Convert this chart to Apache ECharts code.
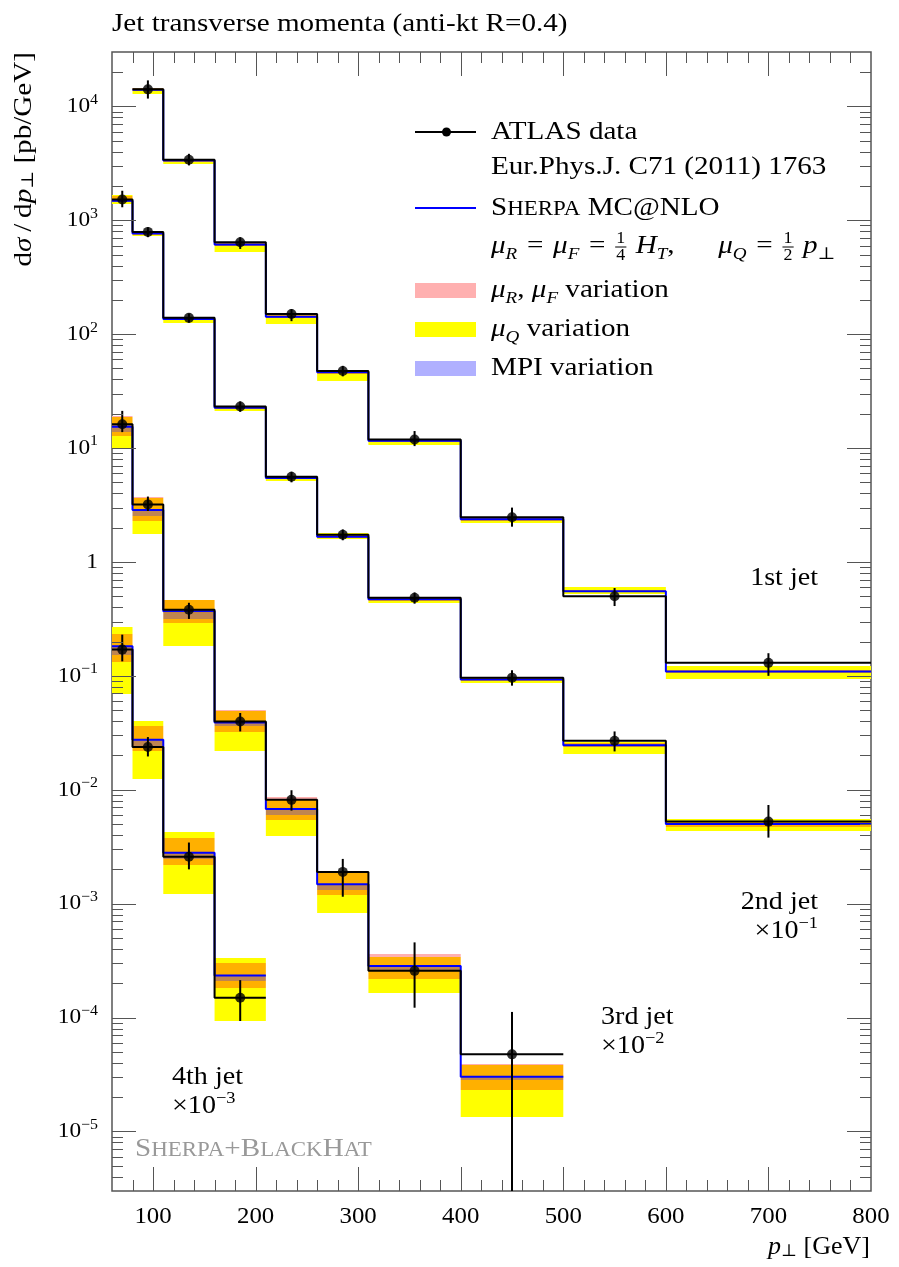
<!DOCTYPE html>
<html>
<head>
<meta charset="utf-8">
<title>Jet transverse momenta</title>
<script src="https://cdn.jsdelivr.net/npm/echarts@6/dist/echarts.min.js"></script>
<style>
  body { margin: 0; background: #fff; }
  #main { width: 899px; height: 1267px; }
</style>
</head>
<body>
<div id="main"></div>
<script>
// bin edges in pT [GeV]
var edges = [60, 80, 110, 160, 210, 260, 310, 400, 500, 600, 800];
var xMin = 60, xMax = 800, yMin = 3e-6, yMax = 3e4;
var xLabels = [100, 200, 300, 400, 500, 600, 700, 800];
var yLabelExp = [-5, -4, -3, -2, -1, 0, 1, 2, 3, 4];

// 1st jet, bins 80-110 ... 600-800
var jet1Start = 1;
var jet1Data   = [14100, 3400, 640, 150, 47.5, 11.9, 2.47, 0.50, 0.130];
var jet1DataLo = [11700, 3030, 560, 130, 42.6, 10.4, 2.04, 0.41, 0.100];
var jet1DataHi = [16900, 3830, 710, 166, 52.7, 14.1, 3.0, 0.59, 0.158];
var jet1Mc     = [14000, 3350, 611, 142, 46.4, 11.6, 2.37, 0.553, 0.109];
var jet1MuQLo  = [12800, 3090, 531, 123, 38.9, 10.6, 2.18, 0.52, 0.094];
var jet1MuQHi  = [14600, 3450, 640, 150, 48, 12.0, 2.48, 0.60, 0.121];
var jet1MuRLo  = [13600, 3250, 590, 138, 45, 11.3, 2.30, 0.54, 0.105];
var jet1MuRHi  = [14500, 3420, 625, 146, 47.5, 11.9, 2.45, 0.57, 0.113];
var jet1MpiLo  = [13800, 3300, 600, 140, 45.8, 11.4, 2.33, 0.545, 0.107];
var jet1MpiHi  = [14200, 3400, 620, 144, 47, 11.8, 2.41, 0.56, 0.111];

// 2nd jet (x 10^-1), bins 60-80 ... 600-800
var jet2Start = 0;
var jet2Data   = [1520, 790, 139, 23.2, 5.6, 1.73, 0.485, 0.0964, 0.0269, 0.00525];
var jet2DataLo = [1300, 710, 126, 20.8, 5.0, 1.55, 0.43, 0.082, 0.0217, 0.0038];
var jet2DataHi = [1815, 869, 152, 25.7, 6.2, 1.93, 0.54, 0.112, 0.0325, 0.00735];
var jet2Mc     = [1480, 765, 136, 22.6, 5.45, 1.66, 0.47, 0.093, 0.0246, 0.0050];
var jet2MuQLo  = [1380, 730, 125, 21.0, 5.1, 1.60, 0.44, 0.086, 0.0205, 0.0043];
var jet2MuQHi  = [1650, 800, 141, 23.6, 5.7, 1.78, 0.49, 0.098, 0.026, 0.0055];
var jet2MuRLo  = [1440, 745, 132, 22.0, 5.3, 1.62, 0.455, 0.090, 0.0235, 0.0047];
var jet2MuRHi  = [1620, 790, 139, 23.2, 5.6, 1.72, 0.485, 0.096, 0.0255, 0.0052];
var jet2MpiLo  = [1460, 755, 134, 22.3, 5.38, 1.64, 0.463, 0.0915, 0.024, 0.0049];
var jet2MpiHi  = [1500, 775, 138, 22.9, 5.52, 1.69, 0.477, 0.0945, 0.0252, 0.0051];

// 3rd jet (x 10^-2), bins 60-80 ... 400-500
var jet3Start = 0;
var jet3Data   = [16.2, 3.2, 0.38, 0.0398, 0.00815, 0.0019, 0.000257, 4.75e-5];
var jet3DataLo = [13.8, 2.80, 0.316, 0.0325, 0.00656, 0.00115, 0.000122, 1e-9];
var jet3DataHi = [21.2, 3.75, 0.438, 0.0472, 0.0099, 0.00247, 0.000457, 0.000112];
var jet3Mc     = [15.4, 2.86, 0.37, 0.039, 0.00679, 0.00148, 0.000284, 3.02e-5];
var jet3MuQLo  = [10.1, 1.75, 0.182, 0.0221, 0.00393, 0.00083, 0.000163, 1.34e-5];
var jet3MuQHi  = [18.8, 3.67, 0.459, 0.0488, 0.00815, 0.00185, 0.000341, 3.8e-5];
var jet3MuRLo  = [12.7, 2.29, 0.292, 0.0319, 0.00543, 0.00119, 0.00022, 2.29e-5];
var jet3MuRHi  = [19.2, 3.72, 0.462, 0.0498, 0.00861, 0.0019, 0.00036, 3.94e-5];
var jet3MpiLo  = [13.8, 2.53, 0.316, 0.036, 0.0060, 0.00132, 0.000257, 2.85e-5];
var jet3MpiHi  = [15.9, 2.80, 0.357, 0.0385, 0.0068, 0.00148, 0.000284, 3.05e-5];

// 4th jet (x 10^-3), bins 60-80 ... 160-210
var jet4Start = 0;
var jet4Data   = [0.170, 0.0237, 0.00258, 1.49e-4];
var jet4DataLo = [0.134, 0.0196, 0.0020, 9.33e-5];
var jet4DataHi = [0.230, 0.029, 0.00344, 2.13e-4];
var jet4Mc     = [0.182, 0.0275, 0.0028, 2.34e-4];
var jet4MuQLo  = [0.0693, 0.0124, 0.00121, 9.27e-5];
var jet4MuQHi  = [0.267, 0.0398, 0.00423, 3.3e-4];
var jet4MuRLo  = [0.133, 0.0217, 0.00219, 1.8e-4];
var jet4MuRHi  = [0.235, 0.036, 0.00375, 3.02e-4];
var jet4MpiLo  = [0.153, 0.0232, 0.00245, 2.1e-4];
var jet4MpiHi  = [0.180, 0.0275, 0.0028, 2.34e-4];

var jets = [
  {start: jet1Start, data: jet1Data, lo: jet1DataLo, hi: jet1DataHi, mc: jet1Mc,
   qLo: jet1MuQLo, qHi: jet1MuQHi, rLo: jet1MuRLo, rHi: jet1MuRHi, mLo: jet1MpiLo, mHi: jet1MpiHi},
  {start: jet2Start, data: jet2Data, lo: jet2DataLo, hi: jet2DataHi, mc: jet2Mc,
   qLo: jet2MuQLo, qHi: jet2MuQHi, rLo: jet2MuRLo, rHi: jet2MuRHi, mLo: jet2MpiLo, mHi: jet2MpiHi},
  {start: jet3Start, data: jet3Data, lo: jet3DataLo, hi: jet3DataHi, mc: jet3Mc,
   qLo: jet3MuQLo, qHi: jet3MuQHi, rLo: jet3MuRLo, rHi: jet3MuRHi, mLo: jet3MpiLo, mHi: jet3MpiHi},
  {start: jet4Start, data: jet4Data, lo: jet4DataLo, hi: jet4DataHi, mc: jet4Mc,
   qLo: jet4MuQLo, qHi: jet4MuQHi, rLo: jet4MuRLo, rHi: jet4MuRHi, mLo: jet4MpiLo, mHi: jet4MpiHi}
];

var FONT = '"Liberation Serif", "DejaVu Serif", serif';
var FRAME = '#555';
var SX = 1.12;   // horizontal stretch, the original face is wider than Liberation Serif
// colours of the bands and of their overlaps (Q = muQ, R = muR/muF, M = MPI)
var BAND = {Q: '#ffff00', R: '#ffb0b0', M: '#b0b0ff', QR: '#ffb000',
            QM: '#b4b45a', RM: '#c8a0c8', QRM: '#bf8550'};

function steps(start, vals) {
  var pts = [];
  vals.forEach(function (v, i) {
    pts.push([edges[start + i], v]);
    pts.push([edges[start + i + 1], v]);
  });
  return pts;
}

function renderBands(params, api) {
  var cs = params.coordSys;
  var x0 = api.value(0), x1 = api.value(1);
  var b = [[api.value(2), api.value(3)], [api.value(4), api.value(5)], [api.value(6), api.value(7)]];
  var cuts = [b[0][0], b[0][1], b[1][0], b[1][1], b[2][0], b[2][1]].sort(function (a, c) { return a - c; });
  var kids = [];
  function inside(r, v) { return v > r[0] && v < r[1]; }
  for (var i = 0; i < cuts.length - 1; i++) {
    var lo = cuts[i], hi = cuts[i + 1];
    if (hi <= lo) continue;
    var mid = Math.sqrt(lo * hi);
    var key = (inside(b[0], mid) ? 'Q' : '') + (inside(b[1], mid) ? 'R' : '') + (inside(b[2], mid) ? 'M' : '');
    if (!key) continue;
    var p0 = api.coord([x0, hi]), p1 = api.coord([x1, lo]);
    var yt = Math.round(p0[1]), yb = Math.round(p1[1]);
    var r = echarts.graphic.clipRectByRect(
      {x: p0[0], y: yt, width: p1[0] - p0[0], height: yb - yt},
      {x: cs.x, y: cs.y, width: cs.width, height: cs.height});
    if (r) kids.push({type: 'rect', shape: r, style: {fill: BAND[key]}});
  }
  return {type: 'group', children: kids};
}

function renderErr(params, api) {
  var cs = params.coordSys;
  var pLo = api.coord([api.value(0), api.value(1)]);
  var pHi = api.coord([api.value(0), api.value(2)]);
  var yb = Math.min(pLo[1], cs.y + cs.height);
  var yt = Math.max(pHi[1], cs.y);
  return {type: 'line', shape: {x1: pLo[0], y1: yb, x2: pLo[0], y2: yt},
          style: {stroke: '#000', lineWidth: 2}};
}

// ticks on all four sides + tick labels
function renderAxes(params, api) {
  var cs = params.coordSys;
  var left = cs.x, top = cs.y, right = cs.x + cs.width, bottom = cs.y + cs.height;
  var kids = [];
  function tick(x1, y1, x2, y2) {
    kids.push({type: 'line', shape: {x1: x1, y1: y1, x2: x2, y2: y2},
               style: {stroke: FRAME, lineWidth: 1}});
  }
  for (var v = 80; v < xMax; v += 20) {
    var x = Math.round(api.coord([v, 1])[0]) + 0.5;
    var len = v % 100 === 0 ? 24 : 11;
    tick(x, bottom, x, bottom - len);
    tick(x, top, x, top + len);
  }
  for (var k = -6; k <= 4; k++) {
    for (var m = 1; m <= 9; m++) {
      var val = m * Math.pow(10, k);
      if (val <= yMin || val >= yMax) continue;
      var y = Math.round(api.coord([xMin, val])[1]) + 0.5;
      var l = m === 1 ? 24 : 11;
      tick(left, y, left + l, y);
      tick(right, y, right - l, y);
    }
  }
  xLabels.forEach(function (v) {
    kids.push({type: 'text', x: api.coord([v, 1])[0], y: bottom + 26, scaleX: 1.08,
      style: {text: String(v), fontFamily: FONT, fontSize: 23, fill: '#000',
              align: 'center', verticalAlign: 'middle'}});
  });
  yLabelExp.forEach(function (e) {
    var y = api.coord([xMin, Math.pow(10, e)])[1];
    var t = e === 0 ? '{b|1}' : '{b|10}{s|' + (e < 0 ? '\u2212' + (-e) : e) + '}';
    kids.push({type: 'text', x: left - 14, y: y, scaleX: 1.06,
      style: {text: t, align: 'right', verticalAlign: 'middle',
        rich: {
          b: {fontFamily: FONT, fontSize: 22, lineHeight: 28, fill: '#000'},
          s: {fontFamily: FONT, fontSize: 15, lineHeight: 14, verticalAlign: 'top', fill: '#000'}
        }}});
  });
  return {type: 'group', children: kids};
}

var bands = [], errBars = [], points = [];
jets.forEach(function (j) {
  j.data.forEach(function (v, i) {
    var x0 = edges[j.start + i], x1 = edges[j.start + i + 1];
    bands.push([x0, x1, j.qLo[i], j.qHi[i], j.rLo[i], j.rHi[i], j.mLo[i], j.mHi[i]]);
    errBars.push([(x0 + x1) / 2, j.lo[i], j.hi[i]]);
    points.push([(x0 + x1) / 2, v]);
  });
});

var series = [
  {type: 'custom', renderItem: renderBands, data: bands,
   encode: {x: [0, 1], y: [2, 3, 4, 5, 6, 7]}, z: 1, silent: true}
];
jets.forEach(function (j) {
  series.push({type: 'line', data: steps(j.start, j.mc), symbol: 'none', z: 2, silent: true,
               lineStyle: {color: '#0000ff', width: 2}});
});
jets.forEach(function (j) {
  series.push({type: 'line', data: steps(j.start, j.data), symbol: 'none', z: 3, silent: true,
               lineStyle: {color: '#000', width: 2}});
});
series.push({type: 'custom', renderItem: renderErr, data: errBars,
             encode: {x: 0, y: [1, 2]}, z: 4, silent: true});
series.push({type: 'scatter', data: points, symbolSize: 10, z: 5, silent: true,
             itemStyle: {color: '#000'}});
series.push({type: 'custom', renderItem: renderAxes, data: [[xMin, 1]], z: 6, silent: true});

// --- text set piece by piece (legend formulas with stacked fractions)
var mctx = document.createElement('canvas').getContext('2d');
function textWidth(t, size, style) {
  mctx.font = (style || 'normal') + ' ' + size + 'px ' + FONT;
  return mctx.measureText(t).width;
}
var SEG = {
  n:  {size: 26, style: 'normal', dy: 0},
  i:  {size: 26, style: 'italic', dy: 0},
  s:  {size: 17, style: 'italic', dy: 5},
  sn: {size: 17, style: 'normal', dy: 5},
  c:  {size: 20.5, style: 'normal', dy: 0}
};
// segs: [text, kind] or [numerator, 'frac', denominator]
function pieces(x, base, segs, color) {
  var out = [];
  segs.forEach(function (sg) {
    if (sg[1] === 'frac') {
      var w = (Math.max(textWidth(sg[0], 16), textWidth(sg[2], 16)) + 2) * SX;
      out.push({type: 'text', x: x + w / 2, y: base - 10.5 - 0.3375 * 16, scaleX: SX,
        style: {text: sg[0], fontFamily: FONT, fontSize: 16, fill: color, align: 'center', verticalAlign: 'middle'}});
      out.push({type: 'line', shape: {x1: x, y1: base - 8, x2: x + w, y2: base - 8},
        style: {stroke: color, lineWidth: 1}});
      out.push({type: 'text', x: x + w / 2, y: base + 6 - 0.3375 * 16, scaleX: SX,
        style: {text: sg[2], fontFamily: FONT, fontSize: 16, fill: color, align: 'center', verticalAlign: 'middle'}});
      x += w + 2;
      return;
    }
    var k = SEG[sg[1]];
    out.push({type: 'text', x: x, y: base + k.dy - 0.3375 * k.size, scaleX: SX,
      style: {text: sg[0], fontFamily: FONT, fontSize: k.size, fontStyle: k.style,
              fill: color, verticalAlign: 'middle'}});
    x += textWidth(sg[0], k.size, k.style) * SX;
  });
  return out;
}

var supRich = {
  n: {fontFamily: FONT, fontSize: 26, lineHeight: 32, fill: '#000'},
  s: {fontFamily: FONT, fontSize: 17, lineHeight: 17, verticalAlign: 'top', fill: '#000'}
};
var axisRich = {
  n: {fontFamily: FONT, fontSize: 26, lineHeight: 30, verticalAlign: 'bottom', fill: '#000'},
  i: {fontFamily: FONT, fontSize: 26, lineHeight: 30, verticalAlign: 'bottom', fontStyle: 'italic', fill: '#000'},
  s: {fontFamily: FONT, fontSize: 17, lineHeight: 19, verticalAlign: 'bottom', fill: '#000'}
};

var lx0 = 415, lx1 = 476, ltx = 491;
var graphic = [
  {type: 'text', x: 112, y: 24, scaleX: SX, style: {text: 'Jet transverse momenta (anti-kt R=0.4)',
    fontFamily: FONT, fontSize: 26, fill: '#000', verticalAlign: 'middle'}},
  {type: 'text', x: 22, y: 52, rotation: Math.PI / 2, scaleX: SX,
   style: {text: '{n|d}{i|\u03c3}{n|\u2009/\u2009d}{i|p}{s|\u22a5}{n| [pb/GeV]}', align: 'right', verticalAlign: 'middle',
     rich: axisRich}},
  {type: 'text', x: 870, y: 1245,
   style: {text: '{i|p}{s|\u22a5}{n| [GeV]}', align: 'right', verticalAlign: 'middle', rich: axisRich}},

  {type: 'line', shape: {x1: lx0, y1: 132, x2: lx1, y2: 132}, style: {stroke: '#000', lineWidth: 2}},
  {type: 'circle', shape: {cx: 446.5, cy: 132, r: 4.5}, style: {fill: '#000'}},
  {type: 'line', shape: {x1: lx0, y1: 208, x2: lx1, y2: 208}, style: {stroke: '#0000ff', lineWidth: 2}},
  {type: 'rect', shape: {x: lx0, y: 283, width: lx1 - lx0, height: 15}, style: {fill: BAND.R}},
  {type: 'rect', shape: {x: lx0, y: 322, width: lx1 - lx0, height: 15}, style: {fill: BAND.Q}},
  {type: 'rect', shape: {x: lx0, y: 361, width: lx1 - lx0, height: 15}, style: {fill: BAND.M}},

  {type: 'text', x: 818, y: 578, scaleX: 1.08, style: {text: '1st jet', fontFamily: FONT, fontSize: 26, fill: '#000', align: 'right', verticalAlign: 'middle'}},
  {type: 'text', x: 818, y: 902, scaleX: 1.08, style: {text: '2nd jet', fontFamily: FONT, fontSize: 26, fill: '#000', align: 'right', verticalAlign: 'middle'}},
  {type: 'text', x: 818, y: 931, scaleX: 1.08, style: {text: '{n|\u00d710}{s|\u22121}', align: 'right', verticalAlign: 'middle', rich: supRich}},
  {type: 'text', x: 601, y: 1017, scaleX: 1.08, style: {text: '3rd jet', fontFamily: FONT, fontSize: 26, fill: '#000', verticalAlign: 'middle'}},
  {type: 'text', x: 601, y: 1046, scaleX: 1.08, style: {text: '{n|\u00d710}{s|\u22122}', verticalAlign: 'middle', rich: supRich}},
  {type: 'text', x: 172, y: 1077, scaleX: 1.08, style: {text: '4th jet', fontFamily: FONT, fontSize: 26, fill: '#000', verticalAlign: 'middle'}},
  {type: 'text', x: 172, y: 1106, scaleX: 1.08, style: {text: '{n|\u00d710}{s|\u22123}', verticalAlign: 'middle', rich: supRich}}
];

// legend rows: baseline = row centre + 9
var EQ = '\u2004=\u2004';
graphic = graphic.concat(
  pieces(ltx, 141, [['ATLAS data', 'n']], '#000'),
  pieces(ltx, 176, [['Eur.Phys.J. C71 (2011) 1763', 'n']], '#000'),
  pieces(ltx, 217, [['S', 'n'], ['HERPA', 'c'], [' MC@NLO', 'n']], '#000'),
  pieces(ltx, 255, [['\u03bc', 'i'], ['R', 's'], [EQ, 'n'], ['\u03bc', 'i'], ['F', 's'], [EQ, 'n'],
                    ['1', 'frac', '4'], [' ', 'n'], ['H', 'i'], ['T', 's'], [',\u2003\u2002', 'n'],
                    ['\u03bc', 'i'], ['Q', 's'], [EQ, 'n'], ['1', 'frac', '2'], [' ', 'n'],
                    ['p', 'i'], ['\u22a5', 'sn']], '#000'),
  pieces(ltx, 299, [['\u03bc', 'i'], ['R', 's'], [', ', 'n'], ['\u03bc', 'i'], ['F', 's'], [' variation', 'n']], '#000'),
  pieces(ltx, 338, [['\u03bc', 'i'], ['Q', 's'], [' variation', 'n']], '#000'),
  pieces(ltx, 377, [['MPI variation', 'n']], '#000'),
  pieces(135, 1158, [['S', 'n'], ['HERPA', 'c'], ['+B', 'n'], ['LACK', 'c'], ['H', 'n'], ['AT', 'c']], '#999')
);

var chart = echarts.init(document.getElementById('main'), null, {renderer: 'canvas'});
chart.setOption({
  animation: false,
  backgroundColor: '#fff',
  grid: {left: 112, right: 28, top: 52, bottom: 76, show: true,
         borderColor: FRAME, borderWidth: 1.5, backgroundColor: 'transparent'},
  xAxis: {type: 'value', min: xMin, max: xMax, axisLine: {show: false},
          axisTick: {show: false}, axisLabel: {show: false}, splitLine: {show: false}},
  yAxis: {type: 'log', min: yMin, max: yMax, axisLine: {show: false},
          axisTick: {show: false}, axisLabel: {show: false}, splitLine: {show: false}},
  graphic: graphic,
  series: series
});
</script>
</body>
</html>
